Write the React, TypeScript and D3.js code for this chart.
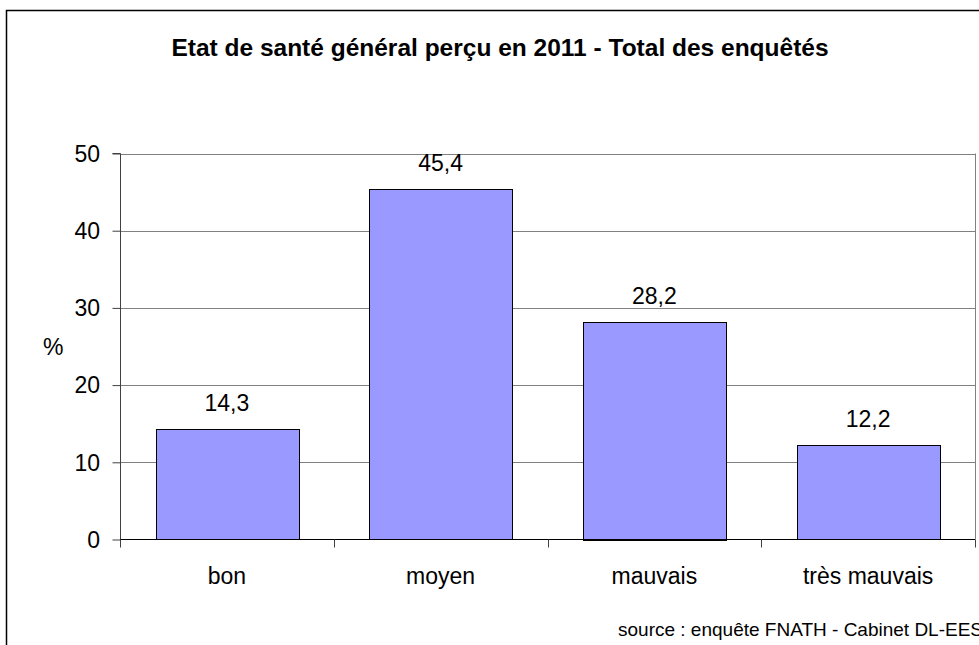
import React, { useEffect, useRef } from 'react';
import * as d3 from 'd3';

const categories = ['bon', 'moyen', 'mauvais', 'très mauvais'];
const values = [14.3, 45.4, 28.2, 12.2];
const yTicks = [0, 10, 20, 30, 40, 50];
const valueLabels = ['14,3', '45,4', '28,2', '12,2'];

const App = () => {
    const ref = useRef<SVGSVGElement>(null);

    useEffect(() => {
        const width = 979;
        const height = 645;
        const left = 120;
        const right = 975;
        const top = 153.5;
        const bottom = 539.5;
        const font = 'Liberation Sans, Arial, sans-serif';

        const svg = d3.select(ref.current);
        svg.selectAll('*').remove();
        svg.attr('width', width).attr('height', height);

        svg.append('rect')
            .attr('width', width)
            .attr('height', height)
            .attr('fill', '#fff');

        // outer frame, cut off right and bottom
        svg.append('rect')
            .attr('x', 6.5)
            .attr('y', 10.5)
            .attr('width', 990)
            .attr('height', 700)
            .attr('fill', 'none')
            .attr('stroke', '#000')
            .attr('stroke-width', 1.5);

        const x = d3.scaleBand<string>()
            .domain(categories)
            .range([left, right])
            .paddingInner(1 / 3)
            .paddingOuter(1 / 6);
        const y = d3.scaleLinear().domain([0, 50]).range([bottom, top]);

        // gridlines
        svg.append('g')
            .selectAll('line')
            .data(yTicks.filter((t) => t > 0))
            .enter()
            .append('line')
            .attr('x1', left)
            .attr('x2', right)
            .attr('y1', (d) => Math.round(y(d)) + 0.5)
            .attr('y2', (d) => Math.round(y(d)) + 0.5)
            .attr('stroke', '#808080')
            .attr('stroke-width', 1);

        // right border of plot area
        svg.append('line')
            .attr('x1', right + 0.5)
            .attr('x2', right + 0.5)
            .attr('y1', top)
            .attr('y2', bottom)
            .attr('stroke', '#808080');

        // bars
        svg.append('g')
            .selectAll('rect')
            .data(values)
            .enter()
            .append('rect')
            .attr('x', (d, i) => Math.round(x(categories[i])!) + 0.5)
            .attr('y', (d) => Math.round(y(d)) + 0.5)
            .attr('width', Math.round(x.bandwidth()))
            .attr('height', (d) => Math.round(bottom - y(d)))
            .attr('fill', '#9999ff')
            .attr('stroke', '#000')
            .attr('stroke-width', 1);

        // value labels
        svg.append('g')
            .selectAll('text')
            .data(values)
            .enter()
            .append('text')
            .attr('x', (d, i) => x(categories[i])! + x.bandwidth() / 2)
            .attr('y', (d) => y(d) - 18)
            .attr('text-anchor', 'middle')
            .attr('font-family', font)
            .attr('font-size', 23)
            .attr('fill', '#000')
            .text((d, i) => valueLabels[i]);

        // y axis
        const yAxis = svg.append('g')
            .attr('transform', `translate(${left + 0.5},0)`)
            .call(d3.axisLeft(y).tickValues(yTicks).tickSize(8).tickPadding(12.5).tickFormat((d) => String(d)));
        yAxis.select('.domain').attr('stroke', '#404040').attr('d', `M-8,${top}H0V${bottom}`);
        yAxis.selectAll('.tick line').attr('stroke', '#404040');
        yAxis.selectAll('.tick text')
            .attr('font-family', font)
            .attr('font-size', 23)
            .attr('dy', '0.34em')
            .attr('fill', '#000');

        // x axis
        const boundaries = categories.map((c) => x(c)! - x.step() * x.paddingInner() / 2).concat([right]);
        svg.append('line')
            .attr('x1', left)
            .attr('x2', right)
            .attr('y1', bottom)
            .attr('y2', bottom)
            .attr('stroke', '#000')
            .attr('stroke-width', 1);
        svg.append('g')
            .selectAll('line')
            .data(boundaries)
            .enter()
            .append('line')
            .attr('x1', (d) => Math.round(d) + 0.5)
            .attr('x2', (d) => Math.round(d) + 0.5)
            .attr('y1', bottom)
            .attr('y2', bottom + 8)
            .attr('stroke', '#404040');
        svg.append('g')
            .selectAll('text')
            .data(categories)
            .enter()
            .append('text')
            .attr('x', (d) => x(d)! + x.bandwidth() / 2)
            .attr('y', 584)
            .attr('text-anchor', 'middle')
            .attr('font-family', font)
            .attr('font-size', 23)
            .attr('fill', '#000')
            .text((d) => d);

        svg.append('text')
            .attr('x', 43)
            .attr('y', 355)
            .attr('font-family', font)
            .attr('font-size', 23)
            .text('%');

        svg.append('text')
            .attr('x', 500)
            .attr('y', 56)
            .attr('text-anchor', 'middle')
            .attr('font-family', font)
            .attr('font-size', 24.5)
            .attr('font-weight', 'bold')
            .text('Etat de santé général perçu en 2011 - Total des enquêtés');

        svg.append('text')
            .attr('x', 618)
            .attr('y', 636)
            .attr('font-family', font)
            .attr('font-size', 19)
            .text('source : enquête FNATH - Cabinet DL-EES');
    }, []);

    return (
        <svg ref={ref} style={{ position: 'absolute', left: 0, top: 0, display: 'block' }} />
    );
};

export default App;
